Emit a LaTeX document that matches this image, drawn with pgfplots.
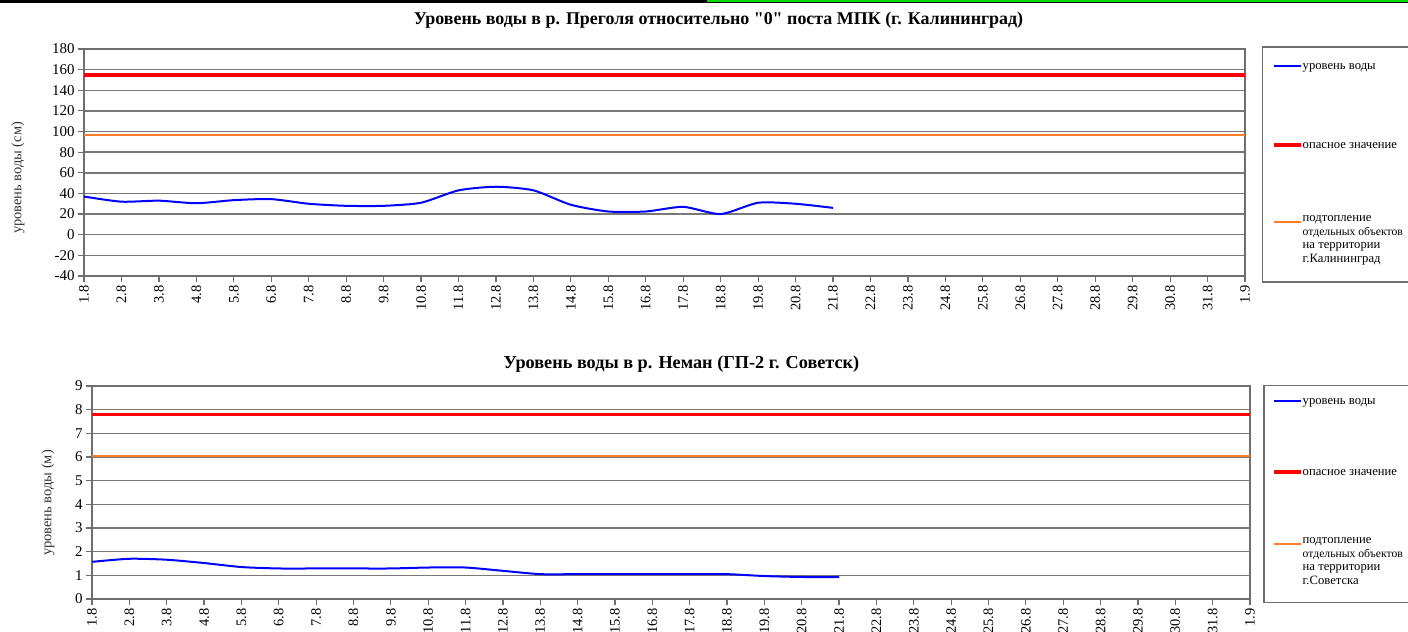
\documentclass[border=0pt]{standalone}
\usepackage{pgfplots}
\pgfplotsset{compat=1.18}
\usepackage{fontspec}
\setmainfont{Liberation Serif}
\newfontfamily\qfont{Liberation Serif}
\definecolor{gridc}{RGB}{120,120,120}
\definecolor{axc}{RGB}{110,110,110}
\definecolor{wblue}{RGB}{0,0,255}
\definecolor{wred}{RGB}{255,0,0}
\definecolor{worange}{RGB}{255,125,40}
\definecolor{wgreen}{RGB}{0,220,0}

\pgfplotstableread{
x y
0 37
1 32
2 33
3 30.5
4 33.5
5 34.5
6 30
7 28
8 28
9 31
10 43
11 46.5
12 43
13 29
14 22.5
15 22.5
16 27
17 20
18 31
19 30
20 26
}\pregolya

\pgfplotstableread{
x y
0 1.57
1 1.70
2 1.66
3 1.52
4 1.35
5 1.29
6 1.29
7 1.29
8 1.29
9 1.33
10 1.33
11 1.19
12 1.05
13 1.05
14 1.05
15 1.05
16 1.05
17 1.05
18 0.97
19 0.93
20 0.93
}\neman

\pgfplotsset{
  mystyle/.style={
    anchor=south west, scale only axis,
    xmin=0, xmax=31,
    xtick={0,...,31},
    xticklabels={1.8,2.8,3.8,4.8,5.8,6.8,7.8,8.8,9.8,10.8,11.8,12.8,13.8,14.8,15.8,16.8,17.8,18.8,19.8,20.8,21.8,22.8,23.8,24.8,25.8,26.8,27.8,28.8,29.8,30.8,31.8,1.9},
    x tick label style={rotate=90, anchor=east, font=\fontsize{14.5}{14.5}\selectfont},
    y tick label style={font=\fontsize{15}{15}\selectfont},
    ymajorgrids,
    grid style={gridc, line width=1.4bp},
    axis line style={axc, line width=1.4bp},
    tick style={axc, line width=1.2bp},
    tick align=outside, major tick length=6bp,
    xtick pos=left, ytick pos=left,
    ylabel style={font=\fontsize{14.5}{14.5}\selectfont, color=black!80},
    clip=false,
  }
}
\newcommand\narrow[1]{{\fontsize{11.7}{13.7}\selectfont #1}}

\begin{document}
\begin{tikzpicture}[x=1bp,y=1bp]
\useasboundingbox (0,0) rectangle (1408,632);
\fill[white] (0,0) rectangle (1408,632);
% top frame decoration
\fill[black] (0,628.5) rectangle (707,632);
\fill[black] (707,628.5) rectangle (1408,630);
\fill[wgreen] (707,630) rectangle (1408,632);

% ---------- top chart ----------
\node[font=\qfont\bfseries\fontsize{18}{18}\selectfont] at (718.5,612) {Уровень воды в р. Преголя относительно "0" поста МПК (г. Калининград)};
\begin{axis}[mystyle,
  at={(84bp,356bp)}, width=1161bp, height=227bp,
  ymin=-40, ymax=180, ytick={-40,-20,0,20,40,60,80,100,120,140,160,180},
  yticklabels={-40,-20,0,20,40,60,80,100,120,140,160,180},
  ylabel={уровень воды (см)},
  every axis y label/.append style={at={(axis description cs:-0.0569,0.432)}, anchor=center},
]
\addplot[wred, line width=3.5bp] coordinates {(0,155) (31,155)};
\addplot[worange, line width=2bp] coordinates {(0,97) (31,97)};
\addplot[wblue, line width=2bp, smooth, tension=0.4] table[x=x,y=y] {\pregolya};
\end{axis}
% legend top
\draw[axc, line width=1.2bp] (1262.7,585) rectangle (1440,350);
\draw[wblue, line width=2bp] (1274,566.3) -- (1301,566.3);
\node[anchor=base west, inner sep=0, font=\fontsize{12.7}{13.7}\selectfont] at (1302.5,562.3) {уровень воды};
\draw[wred, line width=3.5bp] (1274,487) -- (1301,487);
\node[anchor=base west, inner sep=0, font=\fontsize{12.7}{13.7}\selectfont] at (1302.5,483) {опасное значение};
\draw[worange, line width=2bp] (1274,410) -- (1301,410);
\node[anchor=north west, inner sep=0, align=left, font=\fontsize{12.7}{13.7}\selectfont] at (1302.5,416.5) {подтопление\\\narrow{отдельных объектов}\\на территории\\г.Калининград};

% ---------- bottom chart ----------
\node[font=\qfont\bfseries\fontsize{18.3}{18.3}\selectfont] at (681.5,268) {Уровень воды в р. Неман (ГП-2 г. Советск)};
\begin{axis}[mystyle,
  at={(92bp,33bp)}, width=1158bp, height=213bp,
  ymin=0, ymax=9, ytick={0,1,...,9},
  yticklabels={0,1,2,3,4,5,6,7,8,9},
  ylabel={уровень воды (м)},
  every axis y label/.append style={at={(axis description cs:-0.038,0.4507)}, anchor=center},
]
\addplot[wred, line width=3.5bp] coordinates {(0,7.8) (31,7.8)};
\addplot[worange, line width=2bp] coordinates {(0,6.03) (31,6.03)};
\addplot[wblue, line width=2bp, smooth, tension=0.4] table[x=x,y=y] {\neman};
\end{axis}
% legend bottom
\draw[axc, line width=1.2bp] (1264,246.3) rectangle (1440,29.3);
\draw[wblue, line width=2bp] (1274,231) -- (1301,231);
\node[anchor=base west, inner sep=0, font=\fontsize{12.7}{13.7}\selectfont] at (1302.5,227) {уровень воды};
\draw[wred, line width=3.5bp] (1274,160) -- (1301,160);
\node[anchor=base west, inner sep=0, font=\fontsize{12.7}{13.7}\selectfont] at (1302.5,156) {опасное значение};
\draw[worange, line width=2bp] (1274,88) -- (1301,88);
\node[anchor=north west, inner sep=0, align=left, font=\fontsize{12.7}{13.7}\selectfont] at (1302.5,94.5) {подтопление\\\narrow{отдельных объектов}\\на территории\\г.Советска};
\end{tikzpicture}
\end{document}
